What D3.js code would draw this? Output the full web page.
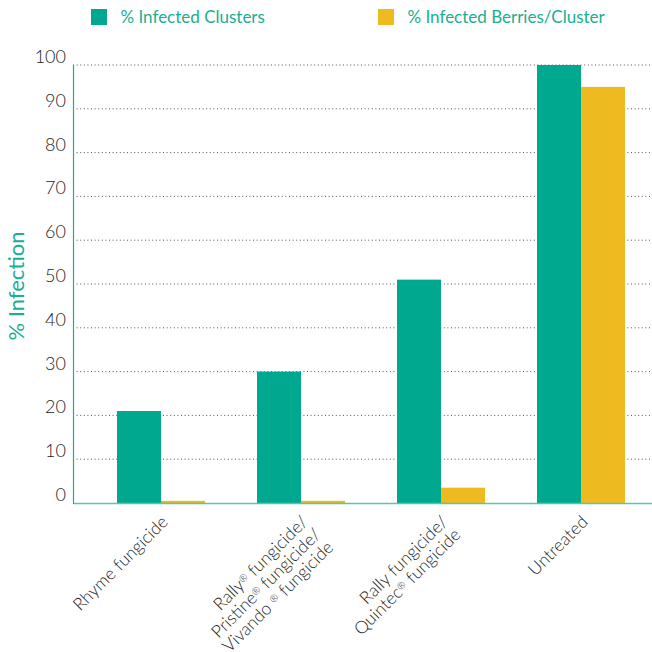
<!DOCTYPE html>
<html>
<head>
<meta charset="utf-8">
<script src="https://cdn.jsdelivr.net/npm/d3@7"></script>
<style>
  html, body { margin: 0; padding: 0; background: #fff; }
  text { font-family: Lato, "Open Sans", sans-serif; font-weight: 300; }
</style>
</head>
<body>
<script>
// data
const categories = ['Rhyme', 'Rally/Pristine/Vivando', 'Rally/Quintec', 'Untreated'];
const categoryLines = [
  [['Rhyme fungicide']],
  [['Rally', '®', ' fungicide/'], ['Pristine', '®', ' fungicide/'], ['Vivando ', '®', ' fungicide']],
  [['Rally fungicide/'], ['Quintec', '®', ' fungicide']],
  [['Untreated']]
];
const seriesNames = ['% Infected Clusters', '% Infected Berries/Cluster'];
const infectedClusters = [21, 30, 51, 100];
const infectedBerries = [0.5, 0.5, 3.5, 95];
const yTicks = [0, 10, 20, 30, 40, 50, 60, 70, 80, 90, 100];

const colors = ['#00a88f', '#edbb1f'];
const teal = '#1aae93';

const w = 652, h = 652;
const svg = d3.select('body').append('svg')
  .attr('width', w)
  .attr('height', h);

const x0 = 73, yBase = 503;

const x = d3.scaleBand()
  .domain(categories)
  .range([91, 651])
  .paddingInner(0.3714)
  .paddingOuter(0.1857);

const xs = d3.scaleBand()
  .domain([0, 1])
  .range([0, x.bandwidth()]);

const y = d3.scaleLinear()
  .domain([0, 100])
  .range([yBase, 65]);

// dotted gridlines
svg.append('g')
  .selectAll('line')
  .data(yTicks.filter(d => d > 0))
  .join('line')
  .attr('x1', x0)
  .attr('x2', w)
  .attr('y1', d => y(d))
  .attr('y2', d => y(d))
  .attr('stroke', '#555')
  .attr('stroke-width', 1)
  .attr('stroke-dasharray', '1,2.6');

// tick labels
svg.append('g')
  .selectAll('text')
  .data(yTicks)
  .join('text')
  .attr('x', 66)
  .attr('y', d => y(d) - 2)
  .attr('text-anchor', 'end')
  .attr('font-size', 18)
  .attr('fill', '#1e1e1e')
  .text(d => d);

// bars
const series = [infectedClusters, infectedBerries];
series.forEach((vals, s) => {
  svg.append('g')
    .selectAll('rect')
    .data(vals)
    .join('rect')
    .attr('x', (d, i) => x(categories[i]) + xs(s))
    .attr('y', d => y(d))
    .attr('width', xs.bandwidth())
    .attr('height', d => yBase - y(d))
    .attr('fill', colors[s]);
});

// axes lines
svg.append('line')
  .attr('x1', x0).attr('x2', w)
  .attr('y1', yBase + 0.5).attr('y2', yBase + 0.5)
  .attr('stroke', '#5cc3b2')
  .attr('stroke-width', 1.5);

svg.append('line')
  .attr('x1', x0 + 0.5).attr('x2', x0 + 0.5)
  .attr('y1', y(100)).attr('y2', yBase + 1)
  .attr('stroke', teal)
  .attr('stroke-width', 1.2);

// y title
svg.append('text')
  .attr('transform', 'translate(24,286) rotate(-90)')
  .attr('text-anchor', 'middle')
  .attr('font-size', 22)
  .attr('font-weight', 400)
  .style('font-weight', 400)
  .attr('fill', teal)
  .text('% Infection');

// category labels, rotated
const lineH = 18;
categories.forEach((c, i) => {
  const cx = x(c) + x.bandwidth() / 2 + 8;
  const t = svg.append('text')
    .attr('transform', `translate(${cx},523) rotate(-45)`)
    .attr('text-anchor', 'end')
    .attr('font-size', 17.5)
    .attr('fill', '#1e1e1e');
  categoryLines[i].forEach((parts, li) => {
    const line = t.append('tspan')
      .attr('x', 0)
      .attr('y', li * lineH);
    parts.forEach(p => {
      if (p === '®') {
        line.append('tspan')
          .attr('font-size', 10)
          .attr('baseline-shift', '45%')
          .text(p);
      } else {
        line.append('tspan').text(p);
      }
    });
  });
});

// legend
const legendX = [91, 378];
seriesNames.forEach((name, i) => {
  svg.append('rect')
    .attr('x', legendX[i])
    .attr('y', 9)
    .attr('width', 16)
    .attr('height', 16)
    .attr('fill', colors[i]);
  svg.append('text')
    .attr('x', legendX[i] + 29.5)
    .attr('y', 23)
    .attr('font-size', 17)
    .style('font-weight', 400)
    .attr('fill', teal)
    .text(name);
});
</script>
</body>
</html>
